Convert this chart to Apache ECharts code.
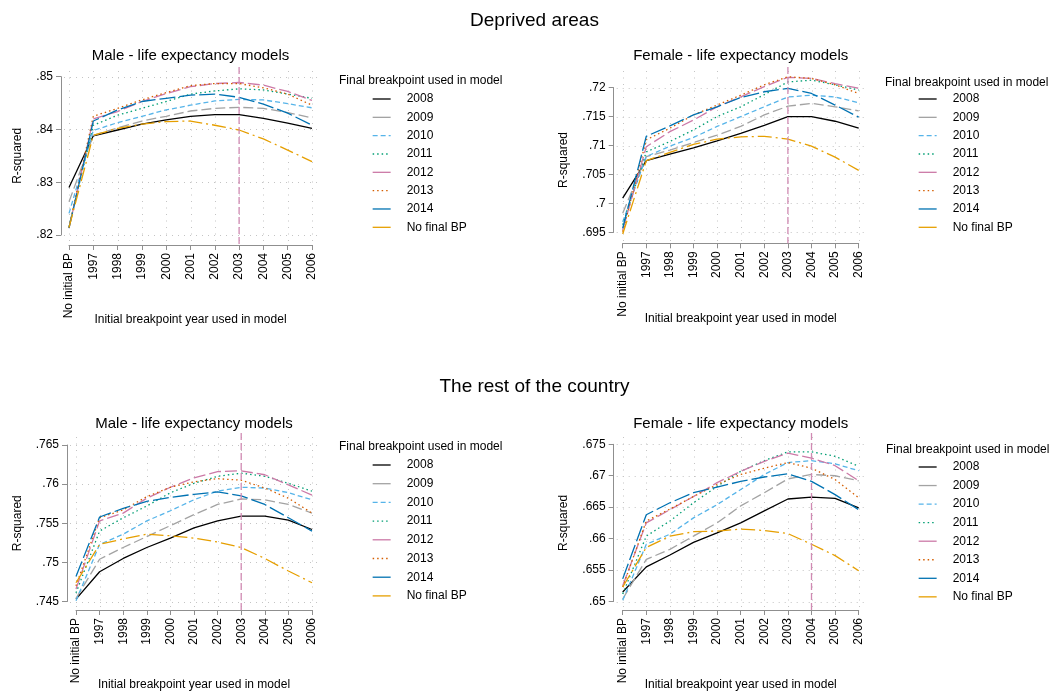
<!DOCTYPE html>
<html>
<head>
<meta charset="utf-8">
<title>R-squared by breakpoint year</title>
<script src="https://cdn.jsdelivr.net/npm/echarts@6/dist/echarts.min.js"></script>
<style>
  html, body { margin: 0; padding: 0; background: #fff; }
  #chart { width: 1050px; height: 692px; }
</style>
</head>
<body>
<div id="chart"></div>
<script>
// Initial breakpoint year (x categories) and final breakpoint year (one line each)
const categories = ['No initial BP', '1997', '1998', '1999', '2000', '2001', '2002', '2003', '2004', '2005', '2006'];
const seriesNames = ['2008', '2009', '2010', '2011', '2012', '2013', '2014', 'No final BP'];

// Deprived areas - male (rows follow seriesNames)
const depMale = [
  [0.8290, 0.8388, 0.8399, 0.8410, 0.8418, 0.8425, 0.8428, 0.8428, 0.8421, 0.8412, 0.8402],
  [0.8263, 0.8389, 0.8403, 0.8416, 0.8425, 0.8435, 0.8440, 0.8442, 0.8440, 0.8432, 0.8422],
  [0.8241, 0.8398, 0.8413, 0.8425, 0.8437, 0.8446, 0.8454, 0.8457, 0.8456, 0.8449, 0.8441],
  [0.8216, 0.8408, 0.8427, 0.8440, 0.8453, 0.8467, 0.8473, 0.8477, 0.8475, 0.8467, 0.8459],
  [0.8213, 0.8420, 0.8434, 0.8453, 0.8468, 0.8481, 0.8487, 0.8489, 0.8484, 0.8472, 0.8455],
  [0.8214, 0.8425, 0.8440, 0.8456, 0.8470, 0.8483, 0.8487, 0.8487, 0.8479, 0.8467, 0.8446],
  [0.8213, 0.8416, 0.8437, 0.8453, 0.8459, 0.8465, 0.8467, 0.8461, 0.8448, 0.8431, 0.8408],
  [0.8214, 0.8389, 0.8402, 0.8410, 0.8415, 0.8416, 0.8408, 0.8399, 0.8382, 0.8361, 0.8339]
];
// Deprived areas - female
const depFemale = [
  [0.7009, 0.7074, 0.7085, 0.7096, 0.7108, 0.7121, 0.7135, 0.7150, 0.7150, 0.7142, 0.7130],
  [0.6983, 0.7081, 0.7092, 0.7105, 0.7118, 0.7133, 0.7153, 0.7168, 0.7173, 0.7167, 0.7160],
  [0.6968, 0.7081, 0.7099, 0.7114, 0.7133, 0.7150, 0.7167, 0.7184, 0.7187, 0.7184, 0.7174],
  [0.6963, 0.7089, 0.7107, 0.7127, 0.7150, 0.7167, 0.7188, 0.7210, 0.7213, 0.7205, 0.7196],
  [0.6954, 0.7098, 0.7124, 0.7144, 0.7167, 0.7184, 0.7202, 0.7218, 0.7216, 0.7207, 0.7199],
  [0.6951, 0.7110, 0.7130, 0.7153, 0.7170, 0.7187, 0.7205, 0.7219, 0.7216, 0.7205, 0.7190],
  [0.6957, 0.7116, 0.7134, 0.7153, 0.7167, 0.7183, 0.7193, 0.7199, 0.7190, 0.7170, 0.7149],
  [0.6947, 0.7074, 0.7088, 0.7102, 0.7111, 0.7115, 0.7116, 0.7111, 0.7099, 0.7080, 0.7057]
];
// Rest of the country - male
const restMale = [
  [0.7453, 0.7488, 0.7505, 0.7519, 0.7531, 0.7544, 0.7553, 0.7559, 0.7559, 0.7554, 0.7542],
  [0.7454, 0.7504, 0.7519, 0.7533, 0.7547, 0.7561, 0.7574, 0.7581, 0.7580, 0.7574, 0.7563],
  [0.7451, 0.7523, 0.7536, 0.7553, 0.7566, 0.7580, 0.7591, 0.7596, 0.7595, 0.7589, 0.7580],
  [0.7461, 0.7540, 0.7557, 0.7572, 0.7589, 0.7601, 0.7610, 0.7614, 0.7610, 0.7601, 0.7591],
  [0.7466, 0.7553, 0.7563, 0.7582, 0.7596, 0.7608, 0.7616, 0.7617, 0.7612, 0.7599, 0.7586],
  [0.7470, 0.7557, 0.7567, 0.7584, 0.7596, 0.7603, 0.7607, 0.7605, 0.7595, 0.7582, 0.7563],
  [0.7482, 0.7558, 0.7569, 0.7578, 0.7583, 0.7587, 0.7590, 0.7585, 0.7574, 0.7557, 0.7540],
  [0.7474, 0.7523, 0.7530, 0.7536, 0.7534, 0.7531, 0.7526, 0.7519, 0.7505, 0.7489, 0.7474]
];
// Rest of the country - female
const restFemale = [
  [0.6515, 0.6555, 0.6574, 0.6594, 0.6609, 0.6625, 0.6644, 0.6663, 0.6666, 0.6664, 0.6649],
  [0.6504, 0.6567, 0.6583, 0.6604, 0.6625, 0.6652, 0.6673, 0.6695, 0.6702, 0.6700, 0.6692],
  [0.6502, 0.6591, 0.6607, 0.6633, 0.6654, 0.6678, 0.6702, 0.6721, 0.6724, 0.6719, 0.6708],
  [0.6512, 0.6604, 0.6628, 0.6657, 0.6683, 0.6707, 0.6724, 0.6738, 0.6738, 0.6731, 0.6715],
  [0.6525, 0.6625, 0.6646, 0.6667, 0.6689, 0.6707, 0.6723, 0.6736, 0.6728, 0.6716, 0.6692],
  [0.6523, 0.6628, 0.6647, 0.6667, 0.6686, 0.6702, 0.6712, 0.6721, 0.6712, 0.6694, 0.6665],
  [0.6536, 0.6638, 0.6657, 0.6673, 0.6682, 0.6691, 0.6698, 0.6703, 0.6691, 0.6670, 0.6646],
  [0.6523, 0.6586, 0.6604, 0.6611, 0.6612, 0.6615, 0.6613, 0.6608, 0.6591, 0.6573, 0.6549]
];

// Y-axis tick values per panel
const depMaleTicks = [0.82, 0.83, 0.84, 0.85];
const depFemaleTicks = [0.695, 0.70, 0.705, 0.71, 0.715, 0.72];
const restMaleTicks = [0.745, 0.75, 0.755, 0.76, 0.765];
const restFemaleTicks = [0.65, 0.655, 0.66, 0.665, 0.67, 0.675];

// Best initial breakpoint year, marked with a vertical line
const depMaleBest = '2003';
const depFemaleBest = '2003';
const restMaleBest = '2003';
const restFemaleBest = '2004';

const groupTitles = ['Deprived areas', 'The rest of the country'];
const panelTitles = ['Male - life expectancy models', 'Female - life expectancy models'];
const xTitle = 'Initial breakpoint year used in model';
const yTitle = 'R-squared';
const legendTitle = 'Final breakpoint used in model';

// ---- styling ----
const FONT = '"Liberation Sans", Arial, Helvetica, sans-serif';
const AXIS = '#8f8f8f';
const GRID = '#c4c4c4';
const REFLINE = '#d08ab3';
const COLORS = ['#000000', '#a3a3a3', '#56B4E9', '#009E73', '#CC79A7', '#D55E00', '#0072B2', '#E69F00'];
const DASHES = ['solid', [10, 4], [5, 3], [1.5, 3], [12, 4], [1.5, 3], [16, 4], [14, 4, 2, 4]];
const LEGEND_DASHES = ['solid', 'solid', [5, 3], [1.5, 3], 'solid', [1.5, 3], 'solid', 'solid'];

// Panel placement (pixels)
const panels = [
  { values: depMale, ticks: depMaleTicks, best: depMaleBest, title: panelTitles[0],
    left: 69, top: 76.7, width: 243, height: 158.3, yOff: 8, xOff: 10, regionTop: 71, yNameGap: 37,
    legX: 372, legY: 93, legGap: 4.33, legTitleX: 339, legTitleY: 81, titleY: 56 },
  { values: depFemale, ticks: depFemaleTicks, best: depFemaleBest, title: panelTitles[1],
    left: 622.7, top: 87.7, width: 236, height: 144.6, yOff: 9, xOff: 11, regionTop: 71, yNameGap: 44,
    legX: 918, legY: 93, legGap: 4.33, legTitleX: 885, legTitleY: 83, titleY: 56 },
  { values: restMale, ticks: restMaleTicks, best: restMaleBest, title: panelTitles[0],
    left: 76, top: 445, width: 236, height: 157.3, yOff: 9, xOff: 8.5, regionTop: 437, yNameGap: 43,
    legX: 372, legY: 459, legGap: 4.7, legTitleX: 339, legTitleY: 447, titleY: 424 },
  { values: restFemale, ticks: restFemaleTicks, best: restFemaleBest, title: panelTitles[1],
    left: 622.7, top: 444.3, width: 236, height: 158.4, yOff: 9, xOff: 8.5, regionTop: 437, yNameGap: 44,
    legX: 918, legY: 461, legGap: 4.55, legTitleX: 886, legTitleY: 450, titleY: 424 }
];

function tickLabel(v) {
  return String(+v.toFixed(3)).replace(/^0\./, '.');
}
const crisp = v => Math.round(v) + 0.5;

const option = {
  animation: false,
  backgroundColor: '#fff',
  textStyle: { fontFamily: FONT },
  grid: [], xAxis: [], yAxis: [], legend: [], series: [], graphic: []
};

panels.forEach((p, k) => {
  const yMin = p.ticks[0];
  const yMax = p.ticks[p.ticks.length - 1];
  const step = +(p.ticks[1] - p.ticks[0]).toFixed(4);
  const lastCat = categories.length - 1;

  option.grid.push({ left: p.left, top: p.top, width: p.width, height: p.height });

  option.xAxis.push({
    type: 'category', gridIndex: k, data: categories, boundaryGap: false, offset: p.xOff,
    axisLine: { show: true, lineStyle: { color: AXIS, width: 1 } },
    axisTick: { show: true, length: 5, lineStyle: { color: AXIS } },
    axisLabel: { rotate: 90, margin: 8, interval: 0, fontSize: 12, color: '#000', fontFamily: FONT },
    splitLine: { show: false },
    name: xTitle, nameLocation: 'middle', nameGap: 69, nameMoveOverlap: false,
    nameTextStyle: { fontSize: 12, color: '#000', fontFamily: FONT }
  });

  option.yAxis.push({
    type: 'value', gridIndex: k, min: yMin, max: yMax, interval: step, offset: p.yOff,
    axisLine: { show: true, lineStyle: { color: AXIS, width: 1 } },
    axisTick: { show: true, length: 5, lineStyle: { color: AXIS } },
    axisLabel: { margin: 8, fontSize: 12, color: '#000', fontFamily: FONT, formatter: tickLabel },
    splitLine: { show: false },
    name: yTitle, nameLocation: 'middle', nameGap: p.yNameGap, nameRotate: 90, nameMoveOverlap: false,
    nameTextStyle: { fontSize: 12, color: '#000', fontFamily: FONT }
  });

  // dotted horizontal gridlines at the y ticks, running across the plot region
  option.series.push({
    type: 'custom', xAxisIndex: k, yAxisIndex: k, silent: true, z: 1, clip: false,
    data: p.ticks.map(v => [0, v]),
    renderItem: (params, api) => {
      const v = p.ticks[params.dataIndex];
      const a = api.coord([0, v]);
      const b = api.coord([lastCat, v]);
      const y = crisp(a[1]);
      return { type: 'line', silent: true,
        shape: { x1: a[0] - p.yOff + 3, y1: y, x2: b[0] + 6, y2: y },
        style: { stroke: GRID, lineWidth: 1, lineDash: [1, 5] } };
    }
  });

  // dotted vertical gridlines at each category
  option.series.push({
    type: 'custom', xAxisIndex: k, yAxisIndex: k, silent: true, z: 1, clip: false,
    data: categories.map((c, i) => [i, yMin]),
    renderItem: (params, api) => {
      const pt = api.coord([params.dataIndex, yMin]);
      const x = crisp(pt[0]);
      return { type: 'line', silent: true,
        shape: { x1: x, y1: p.regionTop, x2: x, y2: pt[1] + p.xOff - 2 },
        style: { stroke: GRID, lineWidth: 1, lineDash: [1, 5.5] } };
    }
  });

  // vertical reference line at the best initial breakpoint
  option.series.push({
    type: 'custom', xAxisIndex: k, yAxisIndex: k, silent: true, z: 3, clip: false,
    data: [[categories.indexOf(p.best), yMin]],
    renderItem: (params, api) => {
      const pt = api.coord([categories.indexOf(p.best), yMin]);
      return { type: 'line', silent: true,
        shape: { x1: pt[0], y1: p.regionTop - 4, x2: pt[0], y2: pt[1] + p.xOff },
        style: { stroke: REFLINE, lineWidth: 1.3, lineDash: [7, 3] } };
    }
  });

  seriesNames.forEach((name, j) => {
    option.series.push({
      type: 'line', name: name, xAxisIndex: k, yAxisIndex: k,
      data: p.values[j], symbol: 'none', clip: false, z: 2,
      lineStyle: { color: COLORS[j], width: 1.3, type: DASHES[j], cap: 'butt' },
      itemStyle: { color: COLORS[j] },
      emphasis: { disabled: true }
    });
  });

  option.legend.push({
    orient: 'vertical', left: p.legX, top: p.legY, padding: 0,
    itemWidth: 18, itemHeight: 12, itemGap: p.legGap + 2, selectedMode: false,
    itemStyle: { opacity: 0, borderWidth: 0 },
    textStyle: { fontSize: 12, color: '#000', fontFamily: FONT, padding: [0, 0, 0, 11] },
    data: seriesNames.map((n, j) => ({ name: n, lineStyle: { type: LEGEND_DASHES[j], width: 1.3 } }))
  });

  option.graphic.push({
    type: 'text', silent: true, x: p.left + p.width / 2, y: p.titleY,
    style: { text: p.title, fontSize: 15, fontFamily: FONT, fill: '#000', align: 'center', verticalAlign: 'middle' }
  });
  option.graphic.push({
    type: 'text', silent: true, x: p.legTitleX, y: p.legTitleY,
    style: { text: legendTitle, fontSize: 12, fontFamily: FONT, fill: '#000', align: 'left', verticalAlign: 'middle' }
  });
});

option.graphic.push({
  type: 'text', silent: true, x: 534.5, y: 21,
  style: { text: groupTitles[0], fontSize: 19, fontFamily: FONT, fill: '#000', align: 'center', verticalAlign: 'middle' }
});
option.graphic.push({
  type: 'text', silent: true, x: 534.5, y: 387,
  style: { text: groupTitles[1], fontSize: 19, fontFamily: FONT, fill: '#000', align: 'center', verticalAlign: 'middle' }
});

const chart = echarts.init(document.getElementById('chart'), null, { renderer: 'canvas' });
chart.setOption(option);
</script>
</body>
</html>
